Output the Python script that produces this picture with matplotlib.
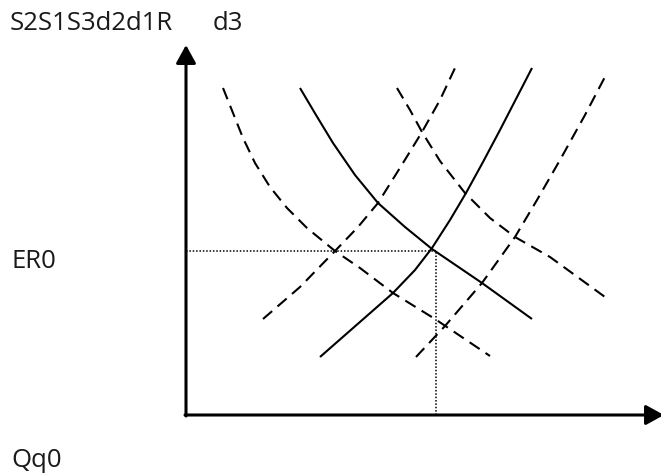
import numpy as np
import matplotlib
matplotlib.use("Agg")
import matplotlib.pyplot as plt

# curves, Q (quantity) vs ER (exchange rate)
d2_q = [3.7, 4.7, 5.7, 6.9, 8.4, 10.1, 12.1, 14.9, 17.4, 20.7, 24.9, 30.4]
d2_er = [32.7, 30.2, 27.7, 25.2, 22.8, 20.7, 18.7, 16.4, 14.7, 12.2, 9.6, 5.9]
d1_q = [11.4, 13.0, 14.7, 16.9, 19.2, 21.9, 24.6, 27.1, 29.6, 34.6]
d1_er = [32.7, 30.0, 27.2, 24.0, 21.2, 18.8, 16.6, 14.9, 13.2, 9.6]
d3_q = [21.1, 22.4, 23.6, 25.4, 27.9, 30.4, 32.9, 36.4, 41.9]
d3_er = [32.7, 30.5, 28.3, 25.4, 22.2, 19.7, 17.8, 15.8, 11.8]
s2_q = [7.7, 11.4, 14.9, 17.2, 19.2, 21.7, 23.6, 25.4, 26.9]
s2_er = [9.6, 12.8, 16.4, 18.8, 21.2, 25.2, 28.3, 31.5, 34.7]
s1_q = [13.4, 20.7, 22.9, 24.6, 26.4, 28.0, 29.7, 31.4, 34.6]
s1_er = [5.8, 12.2, 14.5, 16.7, 19.5, 22.2, 25.3, 28.5, 34.7]
s3_q = [23.0, 25.9, 29.6, 32.9, 35.1, 37.4, 39.9, 42.1]
s3_er = [5.8, 8.9, 13.2, 17.8, 21.5, 25.5, 30.0, 34.2]

q0 = 25.0
er0 = 16.4
x_max = 47.8
y_max = 37.0

top_label = "S2S1S3d2d1R"
top_label2 = "d3"
er_label = "ER0"
q_label = "Qq0"

W, H = 661, 476
fig = plt.figure(figsize=(W / 100, H / 100), dpi=100)
ax = fig.add_axes([0, 0, 1, 1])
# origin of the axes sits at pixel (186, 415), 10 px per unit
ax.set_xlim(-18.6, (W - 186) / 10)
ax.set_ylim((415 - H) / 10, 41.5)
ax.axis("off")

lw = 1.5
dash = (5.8, 3.4)
for q, er, solid in [(d2_q, d2_er, False), (d1_q, d1_er, True), (d3_q, d3_er, False),
                     (s2_q, s2_er, False), (s1_q, s1_er, True), (s3_q, s3_er, False)]:
    line, = ax.plot(q, er, color="black", lw=lw, solid_capstyle="butt",
                    solid_joinstyle="round")
    if not solid:
        line.set_dashes(dash)

# dotted guides to equilibrium
ax.plot([0, q0], [er0, er0], color="black", lw=1.1, linestyle=(0, (1, 1.2)))
ax.plot([q0, q0], [0, er0], color="black", lw=1.1, linestyle=(0, (1, 1.2)))

# axes with arrows
arrow = dict(arrowstyle="-|>,head_length=1.0,head_width=0.55", color="black",
             lw=2.2, shrinkA=0, shrinkB=0, mutation_scale=11)
ax.annotate("", xy=(0, y_max), xytext=(0, -0.1), arrowprops=arrow,
            annotation_clip=False)
ax.annotate("", xy=(x_max, 0), xytext=(-0.1, 0), arrowprops=arrow,
            annotation_clip=False)

font = dict(family=["Open Sans", "DejaVu Sans"], fontsize=18.5, color="#1a1a1a")
fig.text(10 / W, 1 - 30 / H, top_label, va="baseline", ha="left", **font)
fig.text(213 / W, 1 - 30 / H, top_label2, va="baseline", ha="left", **font)
fig.text(11 / W, 1 - 268 / H, er_label, va="baseline", ha="left", **font)
fig.text(11 / W, 1 - 467 / H, q_label, va="baseline", ha="left", **font)

fig.savefig("out.png", dpi=100)
